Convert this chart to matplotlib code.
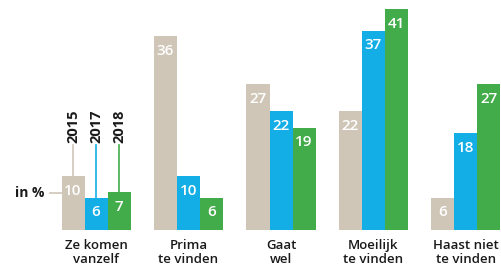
import matplotlib.pyplot as plt

categories = ['Ze komen\nvanzelf', 'Prima\nte vinden', 'Gaat\nwel', 'Moeilijk\nte vinden', 'Haast niet\nte vinden']
years = ['2015', '2017', '2018']
v2015 = [10, 36, 27, 22, 6]
v2017 = [6, 10, 22, 37, 18]
v2018 = [7, 6, 19, 41, 27]
colors = ['#cfc6b8', '#13aee6', '#43ac4a']

plt.rcParams['font.family'] = ['Open Sans', 'DejaVu Sans']

fig = plt.figure(figsize=(5.02, 2.72), dpi=100)
ax = fig.add_axes([0, 42 / 272, 1, 230 / 272])
ax.set_xlim(-96 / 92.5, (502 - 96) / 92.5)
ax.set_ylim(0, 230 / 5.39)
ax.axis('off')

w = 23 / 92.5
series = [v2015, v2017, v2018]
for j, vals in enumerate(series):
    for i, v in enumerate(vals):
        x = i + (j - 1) * w
        ax.bar(x, v, width=w, color=colors[j], linewidth=0)
        ax.text(x, v - 2.75, str(v), color='white', fontsize=11, fontweight='semibold',
                ha='center', va='center')

for i, c in enumerate(categories):
    ax.text(i, -1.6, c, ha='center', va='top', fontsize=9.5, fontweight='semibold',
            color='#1a1a1a', linespacing=1.12, clip_on=False)

# year legend above the first group
ytxt = (230 - 143) / 5.39
for j, y in enumerate(years):
    x = (j - 1) * w
    ax.plot([x, x], [series[j][0], ytxt - 0.3], color=colors[j], lw=1.2)
    ax.text(x, ytxt, y, rotation=90, ha='center', va='bottom', fontsize=10.5,
            fontweight='bold', color='#1a1a1a')

yin = (230 - 193) / 5.39
ax.plot([-w * 1.5 - 12 / 92.5, -w * 1.5], [yin, yin], color='#cfc6b8', lw=1.2)
ax.text(-w * 1.5 - 17 / 92.5, yin, 'in %', ha='right', va='center', fontsize=10,
        fontweight='bold', color='#1a1a1a')

fig.savefig('out.png', dpi=100)
